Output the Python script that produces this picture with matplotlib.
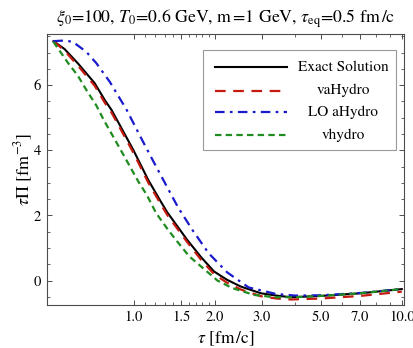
import matplotlib
matplotlib.use('Agg')
import matplotlib.pyplot as plt
from matplotlib.patches import Rectangle
from matplotlib.ticker import FixedLocator, FixedFormatter, NullFormatter

plt.rcParams['font.family'] = ['STIXGeneral', 'DejaVu Serif']
plt.rcParams['mathtext.fontset'] = 'stix'

# tau [fm/c] and tau*Pi [fm^-3]
tau_exact = [0.50, 0.55, 0.617, 0.713, 0.778, 0.824, 0.899, 0.994, 1.13, 1.25, 1.33,
             1.58, 1.78, 1.99, 2.22, 2.50, 2.98, 3.40, 3.86, 5.0, 7.0, 10.0]
pi_exact = [7.35, 7.11, 6.67, 6.06, 5.54, 5.24, 4.67, 4.01, 3.09, 2.47, 2.10,
            1.25, 0.72, 0.28, 0.03, -0.18, -0.39, -0.46, -0.51, -0.47, -0.39, -0.26]

tau_va = tau_exact
pi_va = [7.35, 7.06, 6.60, 5.98, 5.46, 5.16, 4.59, 3.93, 3.01, 2.39, 2.02,
         1.18, 0.64, 0.20, -0.06, -0.27, -0.48, -0.55, -0.58, -0.55, -0.47, -0.34]

tau_lo = [0.50, 0.55, 0.591, 0.664, 0.724, 0.812, 0.939, 1.053, 1.174, 1.31, 1.46,
          1.66, 1.90, 2.23, 2.68, 3.39, 4.0, 5.0, 7.0, 10.0]
pi_lo = [7.35, 7.37, 7.33, 7.02, 6.67, 6.10, 5.24, 4.44, 3.70, 2.97, 2.25,
         1.53, 0.84, 0.25, -0.21, -0.41, -0.46, -0.45, -0.38, -0.26]

tau_vh = [0.50, 0.566, 0.617, 0.664, 0.724, 0.771, 0.836, 0.899, 0.966, 1.038, 1.116,
          1.21, 1.34, 1.46, 1.61, 1.80, 2.05, 2.33, 2.81, 3.34, 4.0, 5.0, 7.0, 10.0]
pi_vh = [7.33, 6.69, 6.29, 5.85, 5.37, 4.93, 4.42, 3.96, 3.50, 3.04, 2.63,
         2.07, 1.56, 1.17, 0.74, 0.40, 0.00, -0.23, -0.44, -0.51, -0.51, -0.47, -0.39, -0.26]

labels = ['Exact Solution', 'vaHydro', 'LO aHydro', 'vhydro']
colors = ['black', '#c41a10', '#1a1acc', '#1e8c1e']
styles = ['-', (0, (4.8, 3.4)), (0, (4.3, 2.4, 1.2, 2.4)), (0, (2.9, 1.9))]

x_major = [1.0, 1.5, 2.0, 3.0, 5.0, 7.0, 10.0]
x_major_labels = ['1.0', '1.5', '2.0', '3.0', '5.0', '7.0', '10.0']
x_minor = [1.1, 1.2, 1.3, 1.4, 1.6, 1.7, 1.8, 1.9, 4.0, 6.0, 8.0, 9.0]
y_major = [0, 2, 4, 6]
y_minor = [-0.5, 0.5, 1, 1.5, 2.5, 3, 3.5, 4.5, 5, 5.5, 6.5, 7, 7.5]

fig = plt.figure(figsize=(4.14, 3.48), dpi=100)
ax = fig.add_axes([0.1128, 0.1244, 0.8638, 0.7779])

series = [(tau_exact, pi_exact), (tau_va, pi_va), (tau_lo, pi_lo), (tau_vh, pi_vh)]
for (t, p), c, ls in zip(series, colors, styles):
    ax.plot(t, p, color=c, linestyle=ls, linewidth=1.6 if c != 'black' else 1.5)

ax.set_xscale('log')
ax.set_xlim(0.472, 10.22)
ax.set_ylim(-0.74, 7.57)

ax.xaxis.set_major_locator(FixedLocator(x_major))
ax.xaxis.set_major_formatter(FixedFormatter(x_major_labels))
ax.xaxis.set_minor_locator(FixedLocator(x_minor))
ax.xaxis.set_minor_formatter(NullFormatter())
ax.yaxis.set_major_locator(FixedLocator(y_major))
ax.yaxis.set_minor_locator(FixedLocator(y_minor))

ax.tick_params(which='both', direction='in', top=True, right=True,
               color='0.3', labelsize=10.5, pad=4)
ax.tick_params(which='major', length=3.8, width=0.7)
ax.tick_params(which='minor', length=2.2, width=0.6)
for s in ax.spines.values():
    s.set_color('0.3')
    s.set_linewidth(0.8)

ax.set_title(r'$\xi_0$=100, $T_0$=0.6 GeV, m$\,$=1 GeV, $\tau_{\rm eq}$=0.5 fm$\,$/c',
             fontsize=12.8, pad=8)
ax.set_xlabel(r'$\tau$ [fm$\,$/c]', fontsize=12.5, labelpad=4)
ax.set_ylabel(r'$\tau\Pi$ [fm$^{-3}$]', fontsize=13, labelpad=-1)

# legend box drawn by hand so that the labels are centred like the original
ax.add_patch(Rectangle((0.437, 0.572), 0.541, 0.369, transform=ax.transAxes,
                       facecolor='white', edgecolor='0.6', linewidth=0.8, zorder=5))
rows = [0.877, 0.791, 0.711, 0.627]
for y, lab, c, ls in zip(rows, labels, colors, styles):
    ax.plot([0.471, 0.672], [y, y], transform=ax.transAxes, color=c, linestyle=ls,
            linewidth=1.6 if c != 'black' else 1.5, zorder=6)
    ax.text(0.829, y, lab, transform=ax.transAxes, ha='center', va='center',
            fontsize=11, zorder=6)

fig.savefig('out.png', dpi=100)
